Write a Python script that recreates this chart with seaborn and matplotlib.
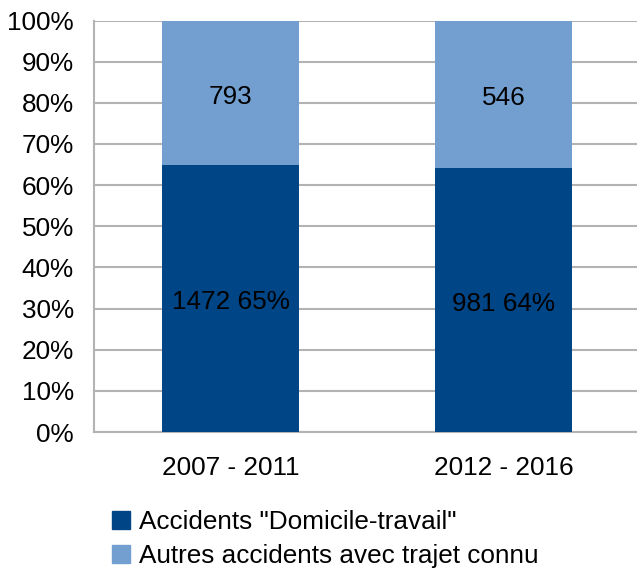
import matplotlib
matplotlib.use('Agg')
import matplotlib.pyplot as plt
import matplotlib.ticker as mticker
from matplotlib.patches import Patch
import pandas as pd
import seaborn as sns

periods = ['2007 - 2011', '2012 - 2016']
domicile_travail = [1472, 981]
autres = [793, 546]
series_names = ['Accidents "Domicile-travail"', 'Autres accidents avec trajet connu']

dark = '#004586'
light = '#729fcf'
grid_col = '#b3b3b3'
fs = 18.8

df = pd.DataFrame({'period': periods, 'dt': domicile_travail, 'autres': autres})
df['total'] = df['dt'] + df['autres']
df['share_dt'] = df['dt'] / df['total']
df['share_all'] = df['total'] / df['total']

sns.set_style('white')
plt.rcParams['font.family'] = ['Liberation Sans', 'DejaVu Sans']
plt.rcParams['font.size'] = fs
plt.rcParams['text.color'] = 'black'

fig = plt.figure(figsize=(6.37, 5.71), dpi=100)
ax = fig.add_axes([94 / 637, 139 / 571, 546 / 637, 411.5 / 571])

sns.barplot(data=df, x='period', y='share_all', color=light, width=0.5,
            saturation=1, linewidth=0, ax=ax, zorder=3)
sns.barplot(data=df, x='period', y='share_dt', color=dark, width=0.5,
            saturation=1, linewidth=0, ax=ax, zorder=3)

for i, row in df.iterrows():
    ax.annotate(f"{row['dt']} {row['share_dt']:.0%}", (i, row['share_dt'] / 2),
                xytext=(0, -3), textcoords='offset points',
                ha='center', va='center', fontsize=fs, color='black', zorder=4)
    ax.annotate(f"{row['autres']}", (i, row['share_dt'] + (1 - row['share_dt']) / 2),
                xytext=(0, -3), textcoords='offset points',
                ha='center', va='center', fontsize=fs, color='black', zorder=4)

ax.set_xlim(-0.5, 1.5)
ax.set_ylim(0, 1)
ax.yaxis.set_major_locator(mticker.MultipleLocator(0.1))
ax.yaxis.set_major_formatter(mticker.PercentFormatter(1.0, decimals=0))
ax.grid(axis='y', color=grid_col, lw=1.5, zorder=0)
ax.set_axisbelow(True)

ax.set_xlabel('')
ax.set_ylabel('')
ax.set_xticks([0, 1])
ax.set_xticklabels(periods)
ax.set_xticks([-0.5, 0.5, 1.5], minor=True)
ax.tick_params(axis='x', which='major', length=0, pad=17, labelsize=fs, labelcolor='black')
ax.tick_params(axis='x', which='minor', length=12, width=1.5, color=grid_col)
ax.tick_params(axis='y', length=12, width=1.5, color=grid_col, pad=2.5, labelsize=fs,
               labelcolor='black')

for s in ['top', 'right']:
    ax.spines[s].set_visible(False)
ax.spines['left'].set_color(grid_col)
ax.spines['left'].set_linewidth(1.5)
ax.spines['bottom'].set_color(grid_col)
ax.spines['bottom'].set_linewidth(1.5)

handles = [Patch(color=dark), Patch(color=light)]
leg = fig.legend(handles, series_names, loc='upper left',
                 bbox_to_anchor=(102 / 637, 1 - 500 / 571), frameon=False,
                 handlelength=0.68, handleheight=0.68, handletextpad=0.33,
                 labelspacing=0.38, fontsize=fs, borderaxespad=0)
for t in leg.get_texts():
    t.set_color('black')

fig.savefig('out.png', dpi=100)
